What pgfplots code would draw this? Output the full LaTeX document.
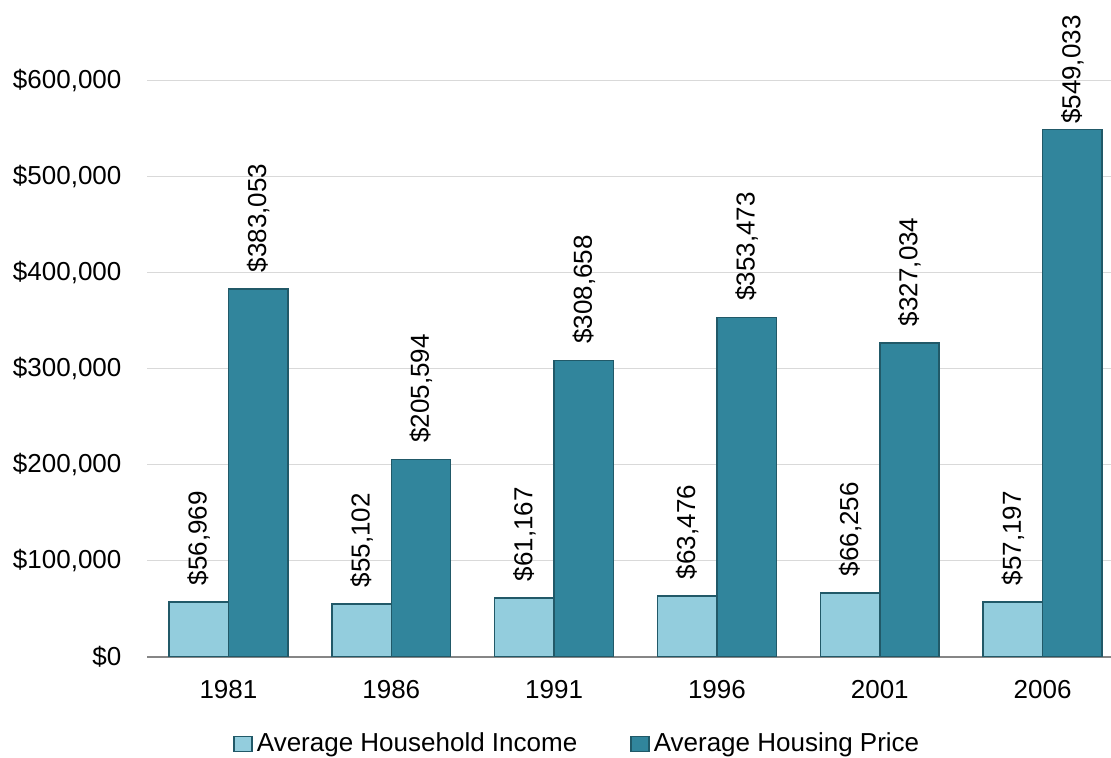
\documentclass[border=0pt]{standalone}
\usepackage{fontspec}
\setmainfont{Liberation Sans}
\usepackage{pgfplots}
\pgfplotsset{compat=1.18}
\definecolor{incomefill}{RGB}{147,205,221}
\definecolor{pricefill}{RGB}{49,133,156}
\definecolor{baredge}{RGB}{33,89,104}
\definecolor{gridgray}{RGB}{217,217,217}
\definecolor{axisgray}{RGB}{134,134,134}

\begin{document}
\fontsize{13pt}{15.6pt}\selectfont
\begin{tikzpicture}
\begin{axis}[
    scale only axis,
    width=482pt, height=288pt,
    ybar, bar width=29.7pt,
    xmin=-0.5, xmax=5.42,
    ymin=0, ymax=600000,
    clip=false,
    axis x line*=bottom, axis y line*=left,
    x axis line style={-, draw=axisgray, line width=1pt},
    y axis line style={draw=none},
    major tick length=0pt,
    xtick style={draw=none}, ytick style={draw=none},
    xtick={0,...,5},
    xticklabels={1981,1986,1991,1996,2001,2006},
    ytick={0,100000,...,600000},
    scaled y ticks=false,
    yticklabel={\$\pgfmathprintnumber[fixed,precision=0,1000 sep={,},assume math mode=true]{\tick}},
    xticklabel style={inner sep=0pt, yshift=-11.5pt},
    yticklabel style={inner sep=0pt, xshift=-12.6pt},
    ymajorgrids,
    major grid style={draw=gridgray, line width=0.75pt},
    point meta=explicit symbolic,
    nodes near coords={\$\pgfplotspointmeta},
    every node near coord/.append style={rotate=90, anchor=west, inner xsep=8pt, inner ysep=0pt, text=black},
    legend columns=2,
    legend image code/.code={\draw[#1] (0pt,-3.75pt) rectangle (9pt,3.75pt);},
    legend style={at={(0.0892,-0.1512)}, anchor=west, draw=none, fill=none, inner sep=0pt,
        nodes={inner sep=0pt},
        /tikz/every odd column/.append style={column sep=2pt},
        /tikz/every even column/.append style={column sep=26.5pt}},
]
\addplot[fill=incomefill, draw=baredge, line width=0.75pt, bar shift=-14.85pt] coordinates {
    (0,56969)[56,969]
    (1,55102)[55,102]
    (2,61167)[61,167]
    (3,63476)[63,476]
    (4,66256)[66,256]
    (5,57197)[57,197]
};
\addplot[fill=pricefill, draw=baredge, line width=0.75pt, bar shift=14.85pt] coordinates {
    (0,383053)[383,053]
    (1,205594)[205,594]
    (2,308658)[308,658]
    (3,353473)[353,473]
    (4,327034)[327,034]
};
% last label sits lower, as the chart area pushes it down
\addplot[fill=pricefill, draw=baredge, line width=0.75pt, bar shift=14.85pt, forget plot,
    every node near coord/.append style={inner xsep=2.5pt}] coordinates {
    (5,549033)[549,033]
};
\legend{Average Household Income, Average Housing Price}
\end{axis}
\pgfresetboundingbox
\path (current axis.south west) ++(-73.5pt,-50.15pt) rectangle ++(555.5pt,378.5pt);
\end{tikzpicture}
\end{document}
